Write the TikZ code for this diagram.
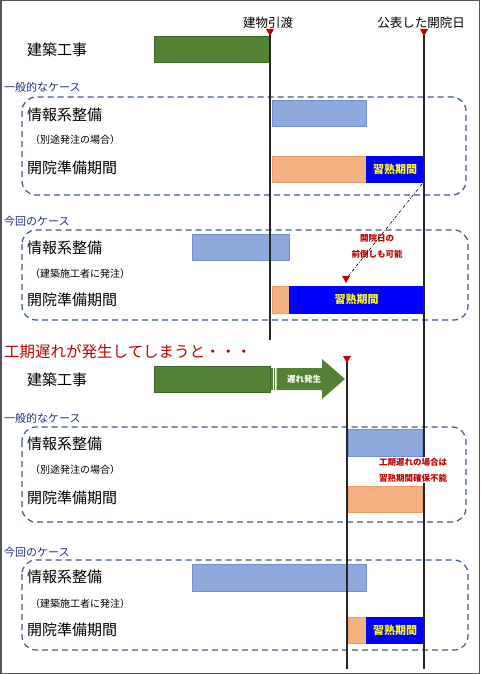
\documentclass[tikz,border=0pt]{standalone}
\usepackage{fontspec}
\setmainfont{Noto Sans CJK JP}
\newfontfamily\jp{Noto Sans CJK JP}
\usetikzlibrary{positioning}
\definecolor{cgreen}{HTML}{548235}
\definecolor{cgreenD}{HTML}{3F6228}
\definecolor{clblue}{HTML}{8EA9DB}
\definecolor{clblueD}{HTML}{6F8FD3}
\definecolor{corange}{HTML}{F4B183}
\definecolor{corangeD}{HTML}{EE9C66}
\definecolor{cblue}{HTML}{0000FF}
\definecolor{cyel}{HTML}{FFFF00}
\definecolor{cnavy}{HTML}{1F2F7A}
\definecolor{cdash}{HTML}{3B5888}
\definecolor{cred}{HTML}{C00000}
\definecolor{cframe}{HTML}{555555}
\tikzset{
  bar/.style={anchor=north west, inner sep=0pt, outer sep=0pt, line width=0.8pt},
  gbar/.style={bar, fill=cgreen, draw=cgreenD},
  lbbar/.style={bar, fill=clblue, draw=clblueD},
  orbar/.style={bar, fill=corange, draw=corangeD},
  bbar/.style={bar, fill=cblue, draw=cblue, text=cyel, font=\jp\bfseries\fontsize{11}{12}\selectfont},
  rowlabel/.style={anchor=west, inner sep=0pt, font=\jp\fontsize{15}{16}\selectfont},
  sublabel/.style={anchor=west, inner sep=0pt, font=\jp\fontsize{10}{11}\selectfont},
  caselabel/.style={anchor=west, inner sep=0pt, text=cnavy, font=\jp\fontsize{11}{12}\selectfont},
  toplabel/.style={anchor=south, inner sep=0pt, font=\jp\fontsize{12.5}{13}\selectfont},
  note/.style={align=center, inner sep=1pt, fill=white, text=cred, font=\jp\bfseries\fontsize{8.5}{16}\selectfont},
  casebox/.style={draw=cdash, dash pattern=on 6pt off 4pt, line width=1.2pt, rounded corners=14pt},
  vline/.style={line width=1.8pt, black!85},
  marker/.style={fill=cred},
}
\begin{document}
\begin{tikzpicture}[x=1pt,y=-1pt]
\useasboundingbox (0,0) rectangle (480,674);
\draw[cframe, line width=1.5pt] (0.75,0.75) rectangle (479.25,673.25);

% top labels
\node[toplabel] (lblhand) at (268,29) {建物引渡};
\node[toplabel] (lblopen) at (421,29) {公表した開院日};

% ===== section 1 =====
\node[rowlabel] (k1) at (27,50) {建築工事};
\node[gbar, minimum width=116pt, minimum height=26pt] (g1) at (154,36) {};

\node[caselabel] (c1) at (4,87) {一般的なケース};
\draw[casebox] (22,97) rectangle (466,195);
\node[rowlabel] (j1) at (27,115) {情報系整備};
\node[lbbar, minimum width=94pt, minimum height=26pt] (lb1) at (272,100) {};
\node[sublabel] (s1) at (30,140) {（別途発注の場合）};
\node[rowlabel] (p1) at (27,168) {開院準備期間};
\node[orbar, minimum width=94pt, minimum height=26pt] (o1) at (272,156) {};
\node[bbar, minimum width=58pt, minimum height=26pt] (b1) at (366,156) {習熟期間};

\node[caselabel] (c2) at (4,221) {今回のケース};
\draw[casebox] (22,230) rectangle (468,320);
\node[rowlabel] (j2) at (27,248) {情報系整備};
\node[lbbar, minimum width=97pt, minimum height=26pt] (lb2) at (192,234) {};
\node[sublabel] (s2) at (30,274) {（建築施工者に発注）};
\node[rowlabel] (p2) at (27,300) {開院準備期間};
\node[orbar, minimum width=17pt, minimum height=27pt] (o2) at (272,286) {};
\node[bbar, minimum width=135pt, minimum height=27pt] (b2) at (289,286) {習熟期間};

\node[note] (n1) at (377,246) {開院日の\\前倒しも可能};

% ===== section 2 =====
\node[anchor=west, inner sep=0pt, text=cred, font=\jp\fontsize{15.5}{16}\selectfont] (delaytitle) at (4,352) {工期遅れが発生してしまうと・・・};
\node[rowlabel] (k2) at (27,380) {建築工事};
\node[gbar, minimum width=116pt, minimum height=26pt] (g2) at (154,366) {};
\fill[cgreen] (271,368) rectangle (272.6,390);
\fill[cgreen] (273.8,368) rectangle (275.4,390);
\fill[cgreen] (276.6,368) -- (322,368) -- (322,359) -- (345,379) -- (322,399) -- (322,390) -- (276.6,390) -- cycle;
\node[inner sep=0pt, text=white, font=\jp\bfseries\fontsize{8.5}{9}\selectfont] (arrtxt) at (304,379) {遅れ発生};

\node[caselabel] (c3) at (4,418) {一般的なケース};
\draw[casebox] (22,427) rectangle (466,522);
\node[rowlabel] (j3) at (27,444) {情報系整備};
\node[lbbar, minimum width=74pt, minimum height=27pt] (lb3) at (348,429) {};
\node[sublabel] (s3) at (30,470) {（別途発注の場合）};
\node[rowlabel] (p3) at (27,498) {開院準備期間};
\node[orbar, minimum width=74pt, minimum height=26pt] (o3) at (348,486) {};

\node[caselabel] (c4) at (4,552) {今回のケース};
\draw[casebox] (22,560) rectangle (468,650);
\node[rowlabel] (j4) at (27,577) {情報系整備};
\node[lbbar, minimum width=174pt, minimum height=27pt] (lb4) at (192,564) {};
\node[sublabel] (s4) at (30,604) {（建築施工者に発注）};
\node[rowlabel] (p4) at (27,630) {開院準備期間};
\node[orbar, minimum width=18pt, minimum height=26pt] (o4) at (348,617) {};
\node[bbar, minimum width=58pt, minimum height=26pt] (b4) at (366,617) {習熟期間};

% ===== vertical lines =====
\coordinate (h1top) at (270,33);
\coordinate (h1bot) at (270,340);
\coordinate (h2top) at (424,33);
\coordinate (h2bot) at (424,669);
\coordinate (h3top) at (347,361);
\coordinate (h3bot) at (347,669);
\draw[vline] (h1top) -- (h1bot);
\draw[vline] (h2top) -- (h2bot);
\draw[vline] (h3top) -- (h3bot);
\fill[marker] (266,29) -- (274,29) -- (270,36) -- cycle;
\fill[marker] (420,29) -- (428,29) -- (424,36) -- cycle;
\fill[marker] (343,356) -- (351,356) -- (347,363) -- cycle;

% note over line (white background)
\node[note] (n2) at (413,470) {工期遅れの場合は\\習熟期間確保不能};

% dash-dot pointer
\coordinate (dstart) at (422,184);
\coordinate (dend) at (346,279);
\draw[black, line width=0.6pt, dash pattern=on 3pt off 1.5pt on 0.8pt off 1.5pt] (dstart) -- (dend);
\fill[marker] (342,276) -- (350,276) -- (346,283) -- cycle;
\end{tikzpicture}
\end{document}
